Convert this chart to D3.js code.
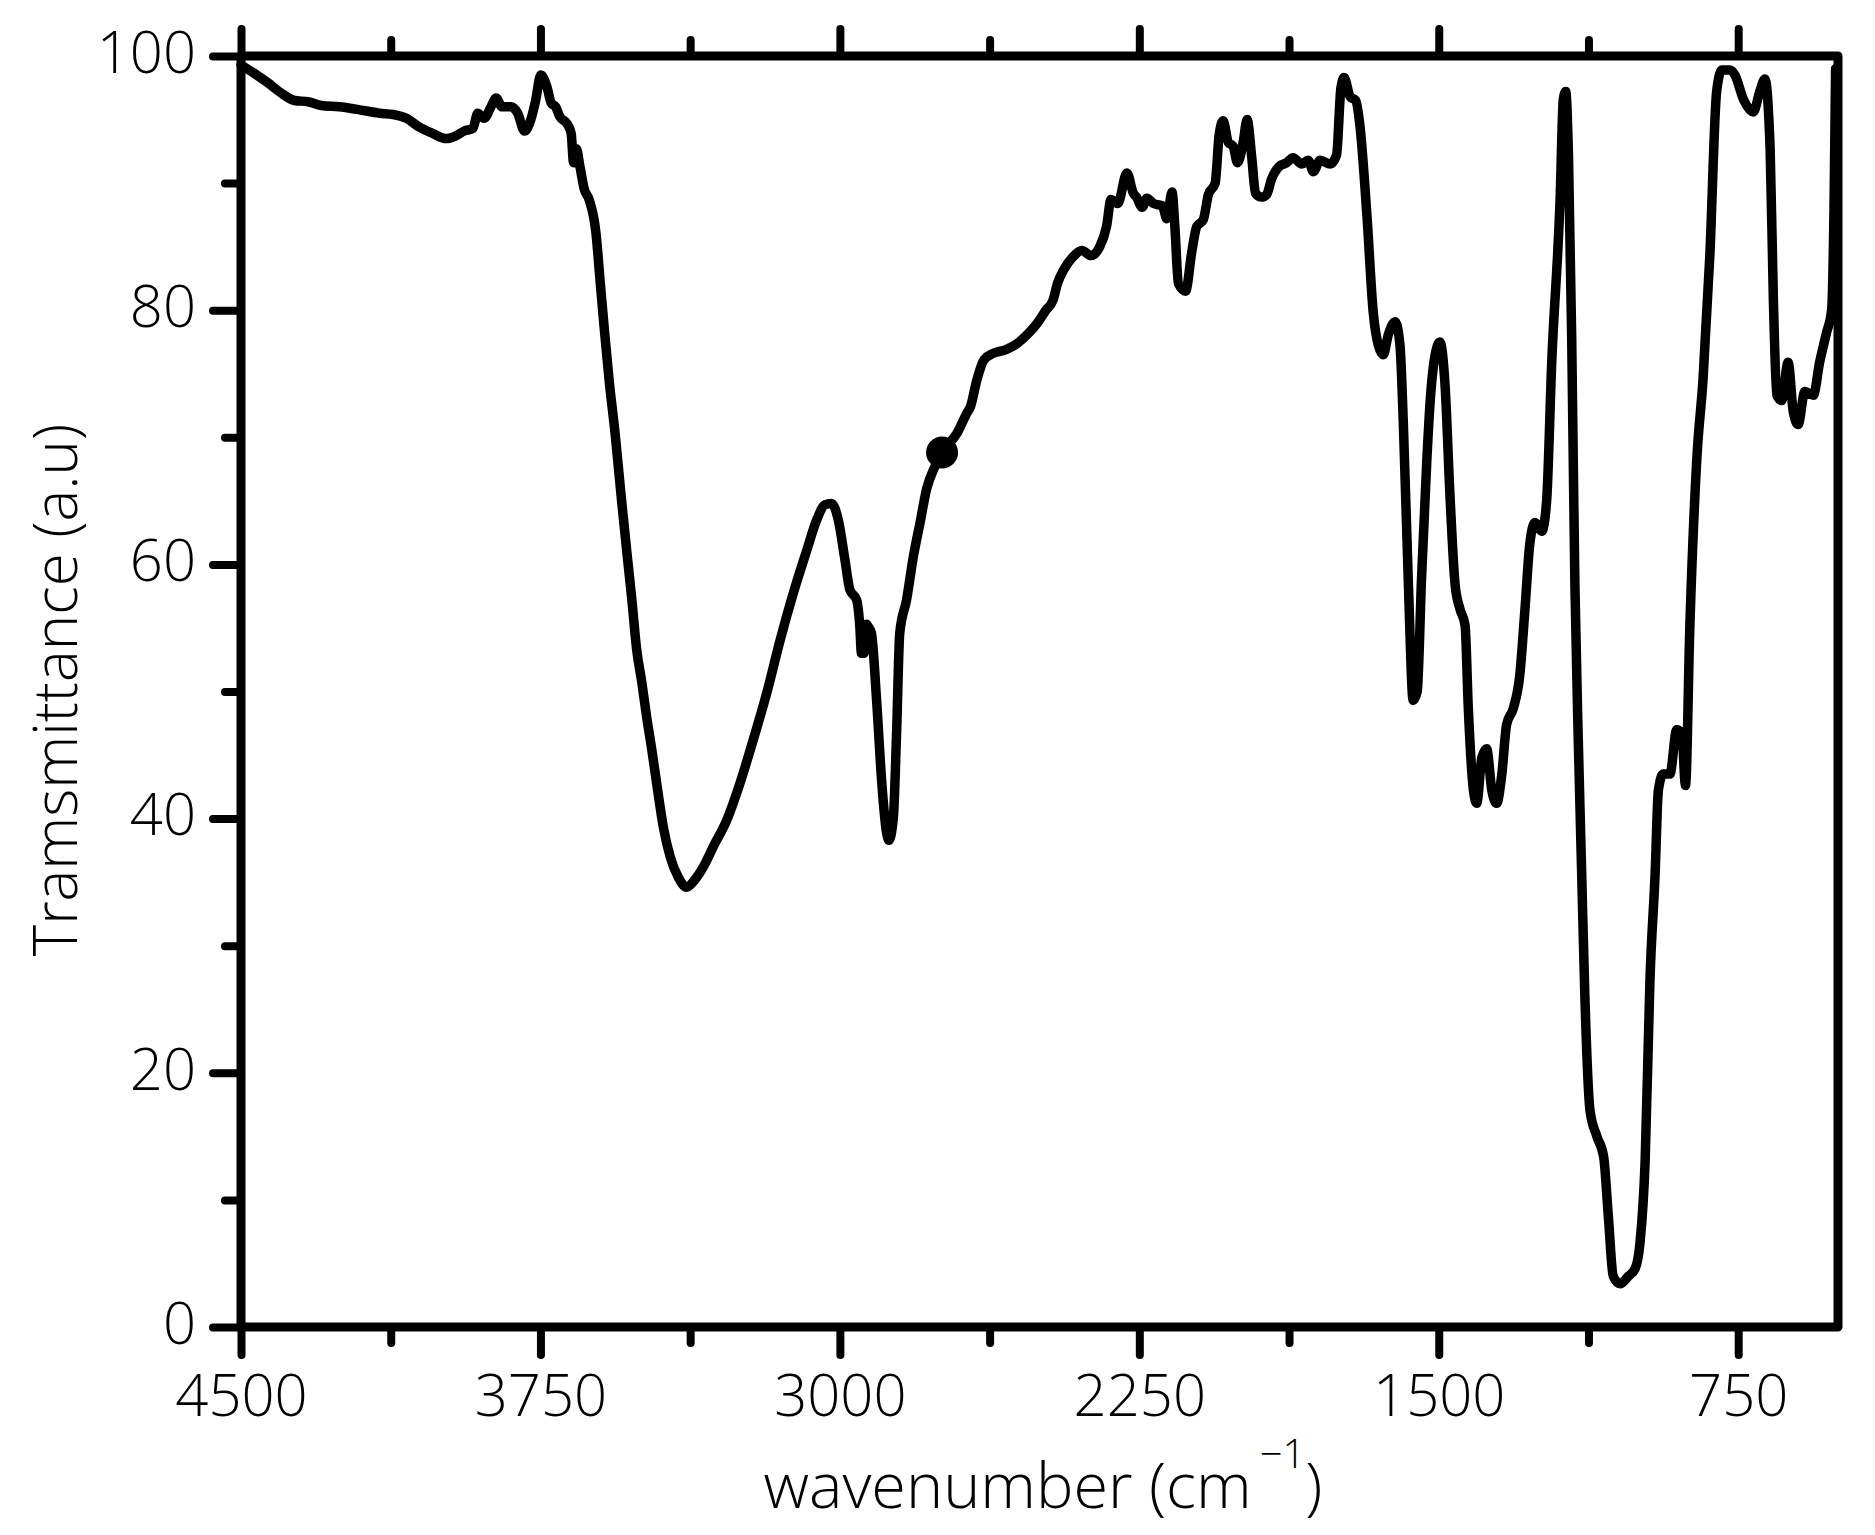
<!DOCTYPE html>
<html>
<head>
<meta charset="utf-8">
<script src="https://cdn.jsdelivr.net/npm/d3@7"></script>
<style>
  html, body { margin: 0; padding: 0; background: #fff; }
  svg { display: block; }
  text { font-family: "Open Sans", "Noto Sans", sans-serif; font-weight: 300; fill: #000; }
</style>
</head>
<body>
<svg id="chart" width="1875" height="1535"></svg>
<script>
// ---- data (wavenumber in cm^-1, transmittance in a.u.) ----
const wavenumber = [
  4500,4470,4433,4400,4366,4332,4299,4254,4209,4153,4119,4086,4053,4019,3986,3963,3941,3919,3907,3891,
  3874,3861,3846,3824,3807,3790,3774,3762,3749,3734,3723,3712,3701,3684,3673,3667,3660,3651,3640,3628,
  3611,3600,3590,3578,3563,3547,3534,3521,3509,3496,3484,3471,3459,3442,3425,3405,3384,3363,3342,3317,
  3283,3250,3217,3183,3150,3117,3083,3058,3037,3021,3004,2987,2975,2958,2950,2946,2940,2933,2929,2921,
  2908,2895,2883,2877,2866,2858,2850,2833,2816,2799,2783,2762,2744,2707,2682,2673,2657,2639,2616,2584,
  2555,2527,2505,2484,2466,2455,2439,2416,2394,2371,2349,2332,2321,2304,2281,2265,2257,2243,2231,2215,
  2192,2181,2168,2161,2152,2134,2119,2106,2090,2077,2060,2050,2040,2027,2015,2004,1990,1980,1968,1959,
  1944,1931,1919,1900,1881,1865,1843,1827,1814,1797,1772,1756,1745,1737,1722,1708,1697,1680,1664,1651,
  1639,1626,1609,1597,1589,1576,1564,1554,1543,1530,1522,1509,1497,1484,1472,1459,1447,1434,1426,1413,
  1405,1392,1380,1367,1355,1342,1330,1313,1297,1284,1272,1259,1242,1230,1217,1196,1188,1182,1175,1167,
  1159,1150,1142,1134,1121,1104,1087,1075,1063,1046,1025,1008,996,983,971,958,950,938,921,904,
  891,882,871,854,838,821,804,791,771,758,737,712,696,683,670,662,653,641,625,612,
  600,583,562,546,529,516,510,506
];
const transmittance = [
  99.3,98.7,97.9,97.1,96.5,96.4,96.1,96.0,95.8,95.5,95.4,95.1,94.4,93.9,93.5,93.7,94.1,94.3,95.5,95.1,
  96.0,96.7,96.0,96.0,95.5,94.1,95.0,96.5,98.5,97.6,96.3,96.0,95.2,94.7,93.9,91.6,92.7,91.3,89.5,88.7,
  86.1,82.1,78.5,74.5,70.3,65.1,61.1,57.2,53.3,50.7,48.0,45.4,42.8,39.3,37.0,35.4,34.6,35.2,36.2,37.8,
  39.9,42.8,46.2,49.9,54.0,57.7,61.1,63.5,64.7,64.8,63.5,60.3,58.0,57.2,55.1,53.0,53.0,55.3,55.1,54.6,
  49.3,42.8,38.9,38.3,40.1,46.7,54.6,57.2,60.6,63.3,65.9,67.7,68.8,70.3,71.9,72.4,74.5,76.1,76.6,76.9,
  77.4,78.2,79.0,80.0,80.8,82.1,83.2,84.2,84.7,84.3,85.0,86.6,88.7,88.4,90.8,89.2,88.9,88.1,88.8,88.4,
  88.2,87.2,89.3,86.6,82.1,81.5,84.5,86.6,87.1,89.1,90.0,93.8,94.9,93.2,92.9,91.6,93.2,95.0,91.9,89.2,
  88.9,89.1,90.3,91.3,91.6,92.0,91.5,91.8,90.9,91.8,91.5,92.2,97.5,98.3,96.8,96.5,94.4,87.5,79.8,77.2,
  76.5,78.1,79.1,77.2,71.4,58.4,49.3,50.0,59.0,68.1,72.6,76.5,77.5,74.0,65.5,58.4,56.5,55.2,48.7,42.2,
  41.2,44.8,45.5,42.2,41.2,43.5,47.4,48.7,51.3,56.5,61.6,63.3,62.6,64.9,75.9,88.8,96.6,97.2,92.0,77.8,
  58.4,45.5,35.7,26.0,17.0,15.0,13.4,8.6,4.0,3.4,4.0,4.6,6.6,13.1,27.3,35.7,42.2,43.5,43.5,47.0,
  46.7,42.6,55.2,68.1,74.6,84.3,97.2,98.9,98.9,98.5,96.6,95.6,97.2,98.2,92.7,81.0,73.3,72.9,75.9,72.0,
  71.0,73.6,73.3,75.9,78.2,80.0,88.0,99.0
];
const markerWavenumber = [2744];
const markerTransmittance = [68.8];

const xMajorTicks = [4500, 3750, 3000, 2250, 1500, 750];
const xMinorTicks = [4125, 3375, 2625, 1875, 1125];
const yMajorTicks = [0, 20, 40, 60, 80, 100];
const yMinorTicks = [10, 30, 50, 70, 90];
const xTitle = "wavenumber (cm";
const xTitleSup = "\u22121";
const yTitle = "Tramsmittance (a.u)";

// ---- layout ----
const L = 241, R = 1838, T = 56, B = 1327;
const svg = d3.select("#chart");
const x = d3.scaleLinear().domain([4500, 500]).range([L, R]);
const y = d3.scaleLinear().domain([0, 100]).range([B, T]);

const data = wavenumber.map((w, i) => ({w, t: transmittance[i]}));

// curve
const line = d3.line().x(d => x(d.w)).y(d => y(d.t)).curve(d3.curveMonotoneX);
svg.append("path").datum(data)
  .attr("d", line)
  .attr("fill", "none").attr("stroke", "#000")
  .attr("stroke-width", 9.5).attr("stroke-linejoin", "round").attr("stroke-linecap", "round");

svg.selectAll("circle.marker").data(markerWavenumber.map((w, i) => ({w, t: markerTransmittance[i]})))
  .enter().append("circle").attr("class", "marker")
  .attr("cx", d => x(d.w)).attr("cy", d => y(d.t)).attr("r", 16).attr("fill", "#000");

// axes helper
function styleAxis(g, fontSize) {
  g.select(".domain").remove();
  g.selectAll(".tick line").attr("stroke", "#000").attr("stroke-width", 8).attr("stroke-linecap", "round");
  g.selectAll(".tick text").style("font-size", fontSize + "px").style("font-family", '"Open Sans", sans-serif').style("font-weight", 300).attr("fill", "#000");
}

// bottom
const gxb = svg.append("g").attr("transform", `translate(0,${B})`)
  .call(d3.axisBottom(x).tickValues(xMajorTicks).tickSize(28).tickPadding(20).tickFormat(d3.format("d")));
styleAxis(gxb, 58);
gxb.selectAll(".tick text").attr("dy", "0.71em");
const gxbm = svg.append("g").attr("transform", `translate(0,${B})`)
  .call(d3.axisBottom(x).tickValues(xMinorTicks).tickSize(16).tickFormat(""));
styleAxis(gxbm, 58);

// top
const gxt = svg.append("g").attr("transform", `translate(0,${T})`)
  .call(d3.axisTop(x).tickValues(xMajorTicks).tickSize(27).tickFormat(""));
styleAxis(gxt, 58);
const gxtm = svg.append("g").attr("transform", `translate(0,${T})`)
  .call(d3.axisTop(x).tickValues(xMinorTicks).tickSize(16).tickFormat(""));
styleAxis(gxtm, 58);

// left
const gyl = svg.append("g").attr("transform", `translate(${L},0)`)
  .call(d3.axisLeft(y).tickValues(yMajorTicks).tickSize(28).tickPadding(17).tickFormat(d3.format("d")));
styleAxis(gyl, 58);
gyl.selectAll(".tick text").attr("dy", "0.28em");
const gylm = svg.append("g").attr("transform", `translate(${L},0)`)
  .call(d3.axisLeft(y).tickValues(yMinorTicks).tickSize(16).tickFormat(""));
styleAxis(gylm, 58);

// frame
svg.append("rect").attr("x", L).attr("y", T).attr("width", R - L).attr("height", B - T)
  .attr("fill", "none").attr("stroke", "#000").attr("stroke-width", 9).attr("stroke-linejoin", "round");

// titles
const xt = svg.append("text").attr("x", 1043).attr("y", 1508).attr("text-anchor", "middle")
  .style("font-size", "63px");
xt.append("tspan").text(xTitle);
xt.append("tspan").text(xTitleSup).attr("dx", 8).attr("dy", -40).style("font-size", "40px");
xt.append("tspan").text(")").attr("dy", 40);

svg.append("text").attr("transform", "translate(77,690) rotate(-90)").attr("text-anchor", "middle")
  .style("font-size", "60px").text(yTitle);
</script>
</body>
</html>
